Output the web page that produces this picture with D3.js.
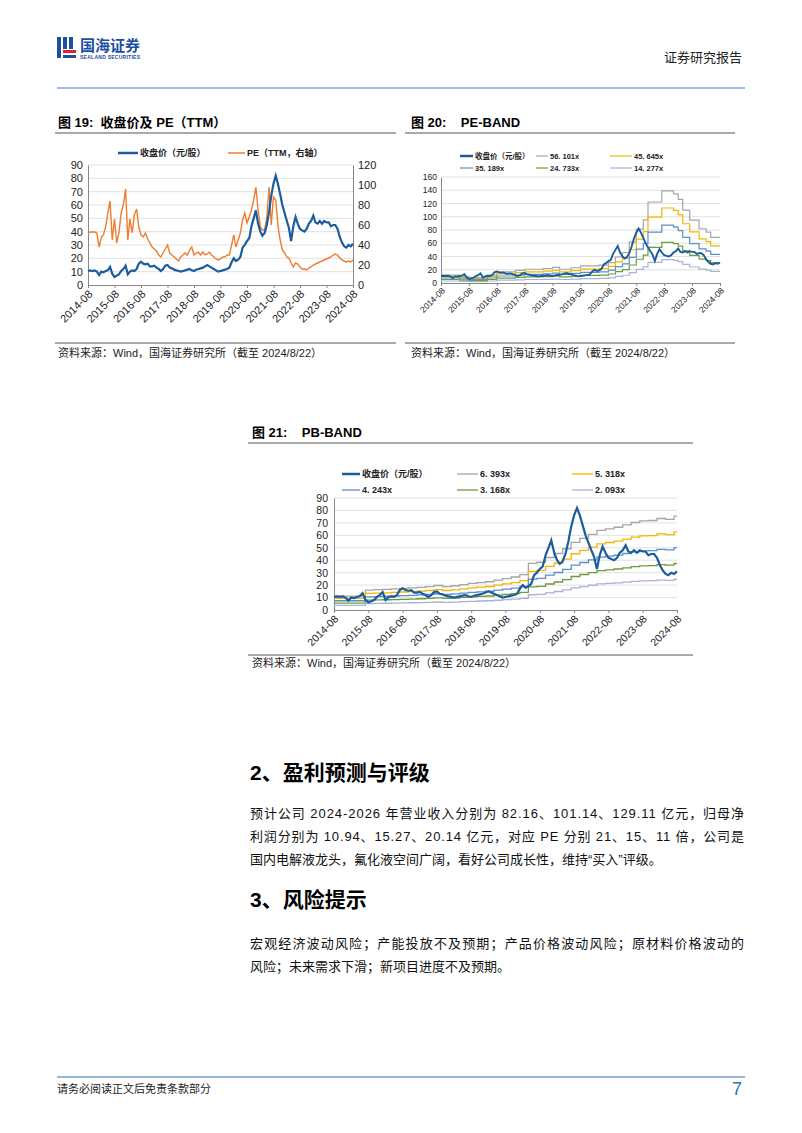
<!DOCTYPE html>
<html><head><meta charset="utf-8">
<script src="https://cdn.jsdelivr.net/npm/d3@7"></script>
<style>body{margin:0;background:#fff}svg{display:block}text{white-space:pre}</style>
</head><body>
<svg id="page" width="802" height="1133"></svg>
<script>
// ---------------- DATA ----------------
const startMonth = "2014-08";
const endMonth = "2024-08";
const xTickLabels = ["2014-08","2015-08","2016-08","2017-08","2018-08","2019-08","2020-08","2021-08","2022-08","2023-08","2024-08"];
const yTicksPrice90 = [0,10,20,30,40,50,60,70,80,90];
const yTicksPE120 = [0,20,40,60,80,100,120];
const yTicksBand160 = [0,20,40,60,80,100,120,140,160];

// monthly close price (元/股), 2014-08 .. 2024-08
const closePrice = [10.5,11,10.5,11,10,
 7.5,10,9.5,10.5,11,13.5,8.5,6,7,8,10.5,12,
 14.5,8,10,11,10.5,12,16,17.5,16,15.5,16,14,
 14,14.5,13,12,10.5,12,14.5,15,13,12.5,11.5,11,
 10.5,10,10.5,11,11.5,12,11,10.5,11.5,12,12.5,13,
 14,15,14,13,12,11,10,10.5,11,11.5,12,13,
 17,20,18,19,21,28,30,33,35,44,50,56,
 46,40,37,39,45,55,67,76,82,76,68,60,
 54,48,43,33,44,51,46,42,41,40,42,46,
 48,52,47,46,48,46,48,47,47,44,45,45,
 42,36,32,29,28,30,29,31];

// monthly PE (TTM), right axis
const peTTM = [52,53,53,53,52,
 38,48,50,58,72,84,45,66,42,52,72,80,
 96,45,66,52,70,76,58,50,48,52,46,42,
 38,36,34,30,28,32,36,40,32,30,28,26,
 24,28,30,32,30,35,38,30,32,33,30,33,
 30,31,33,30,28,26,25,26,28,28,30,30,
 40,50,38,45,52,65,72,62,68,75,85,98,
 75,58,55,55,68,98,60,88,85,60,45,35,
 32,28,27,22,18,22,21,18,16,16,15,17,
 18,20,21,22,23,24,25,26,27,28,30,31,
 30,27,25,24,23,24,23,25];

// PE band: multiples and EPS(TTM) step values
const peMultiples = [56.101,45.645,35.189,24.733,14.277];
const peLabels = ["56. 101x","45. 645x","35. 189x","24. 733x","14. 277x"];
const epsStepMonths = ["2014-08","2015-04","2015-08","2016-04","2016-08","2017-04","2017-08","2018-04","2018-08","2018-11","2019-04","2019-08","2020-04","2020-08","2020-11","2021-02","2021-05","2021-08","2021-11","2022-01","2022-07","2022-12","2023-02","2023-04","2023-07","2023-11","2024-02","2024-04"];
const epsStepValues = [0.214,0.178,0.143,0.214,0.30,0.34,0.37,0.39,0.42,0.37,0.41,0.46,0.48,0.55,0.70,0.82,1.10,1.45,1.70,2.18,2.48,2.40,2.25,1.96,1.69,1.46,1.37,1.23];

// PB band: multiples and BPS step values
const pbMultiples = [6.393,5.318,4.243,3.168,2.093];
const pbLabels = ["6. 393x","5. 318x","4. 243x","3. 168x","2. 093x"];
const bpsStepMonths = ["2014-08","2015-07","2015-10","2016-01","2016-04","2016-07","2016-10","2017-01","2017-04","2017-07","2017-10","2018-01","2018-04","2018-07","2018-10","2019-01","2019-04","2019-07","2019-10","2020-01","2020-04","2020-07","2020-10","2021-01","2021-04","2021-07","2021-10","2022-01","2022-04","2022-07","2022-10","2023-01","2023-04","2023-07","2023-10","2024-01","2024-04","2024-07"];
const bpsStepValues = [1.75,2.50,2.55,2.60,2.65,2.72,2.78,2.85,2.95,3.08,2.95,3.05,3.20,3.35,3.45,3.55,3.75,3.95,4.15,4.45,5.85,6.0,6.6,7.1,7.7,8.5,9.0,9.5,10.0,10.2,10.4,10.7,11.0,11.2,11.25,11.5,11.4,11.8];

const bandColors = ["#a5a5a5","#f2b700","#5b8fc9","#6a9c3e","#a9b3d8"];
const priceColor = "#1b5d9c";
const peColor = "#ed7d31";

// ---------------- HELPERS ----------------
const parse = d3.timeParse("%Y-%m");
const FONT = '"Liberation Sans", Arial, "Noto Sans CJK SC", sans-serif';
const svg = d3.select("#page");
const d0 = parse(startMonth), d1 = parse(endMonth);
const monthDates = closePrice.map((v,i)=>d3.timeMonth.offset(d0,i));
const xTickDates = xTickLabels.map(parse);

function text(x,y,s,o={}){
  const t = svg.append("text").attr("x",x).attr("y",y).text(s)
    .attr("font-family",o.family||FONT).attr("font-size",o.size||12)
    .attr("fill",o.fill||"#000");
  if(o.weight) t.attr("font-weight",o.weight);
  if(o.anchor) t.attr("text-anchor",o.anchor);
  if(o.len) t.attr("textLength",o.len).attr("lengthAdjust","spacing");
  return t;
}
function hline(x1,x2,y,color,w){
  svg.append("line").attr("x1",x1).attr("x2",x2).attr("y1",y).attr("y2",y)
    .attr("stroke",color).attr("stroke-width",w);
}

function panel(cfg){
  const g = svg.append("g");
  const x = d3.scaleTime().domain([d0,d1]).range([cfg.left,cfg.right]);
  const y = d3.scaleLinear().domain([0,cfg.yMax]).range([cfg.bottom,cfg.top]);
  g.append("g").selectAll("line").data(cfg.yTicks.filter(v=>v>0)).join("line")
    .attr("x1",cfg.left).attr("x2",cfg.right).attr("y1",d=>y(d)).attr("y2",d=>y(d))
    .attr("stroke","#d9d9d9").attr("stroke-width",0.8);
  const ya = g.append("g").attr("transform",`translate(${cfg.left},0)`)
    .call(d3.axisLeft(y).tickValues(cfg.yTicks).tickSize(0).tickPadding(cfg.yPad||4));
  ya.select(".domain").attr("stroke","#868686");
  ya.selectAll("text").attr("font-family",FONT).attr("font-size",cfg.fs).attr("fill","#222");
  const xa = g.append("g").attr("transform",`translate(0,${cfg.bottom})`)
    .call(d3.axisBottom(x).tickValues(xTickDates).tickSize(3).tickFormat((d,i)=>xTickLabels[i]));
  xa.select(".domain").attr("stroke","#868686");
  xa.selectAll(".tick line").attr("stroke","#868686");
  xa.selectAll("text").attr("font-family",FONT).attr("font-size",cfg.xfs||cfg.fs).attr("fill","#222")
    .attr("text-anchor","end").attr("x",0).attr("y",0).attr("dy","0.35em")
    .attr("transform",`translate(${cfg.lx||2},${cfg.ly||7}) rotate(-45)`);
  return {g,x,y};
}

function legendItem(x1,x2,yy,color,w,label,fs){
  svg.append("line").attr("x1",x1).attr("x2",x2).attr("y1",yy).attr("y2",yy)
    .attr("stroke",color).attr("stroke-width",w);
  text(x2+2,yy+fs*0.36,label,{size:fs,weight:"bold",fill:"#222"});
}

function stepSeries(months,vals,mult){
  const pts = months.map((m,i)=>({d:parse(m),v:vals[i]*mult}));
  pts.push({d:d1,v:vals[vals.length-1]*mult});
  return pts;
}

// ---------------- HEADER ----------------
const logoBlue = "#1d4f9f", logoRed = "#d8262c";
svg.append("rect").attr("x",57).attr("y",37).attr("width",4).attr("height",21).attr("fill",logoBlue);
svg.append("rect").attr("x",63).attr("y",37).attr("width",4).attr("height",12).attr("fill",logoBlue);
svg.append("rect").attr("x",69).attr("y",37).attr("width",4).attr("height",12).attr("fill",logoBlue);
svg.append("rect").attr("x",63).attr("y",50).attr("width",13).attr("height",3).attr("fill",logoRed);
svg.append("rect").attr("x",63).attr("y",55).attr("width",13).attr("height",3).attr("fill",logoBlue);
text(80,51,"国海证券",{size:15,weight:"bold",fill:logoBlue,len:60});
text(80,58.5,"SEALAND SECURITIES",{size:5,weight:"bold",fill:logoBlue,len:60});
text(742,62,"证券研究报告",{size:13,anchor:"end",fill:"#222"});
hline(57,745,88,"#9dbde6",2);

// ---------------- CHART 19 ----------------
text(58,127,"图 19:  收盘价及 PE（TTM）",{size:13,weight:"bold"});
hline(55,396,133,"#555",1.2);
{
  const p = panel({left:88,right:353,top:165,bottom:285,yMax:90,yTicks:yTicksPrice90,fs:11,yPad:5,lx:2,ly:7});
  const yR = d3.scaleLinear().domain([0,120]).range([285,165]);
  const ra = p.g.append("g").attr("transform","translate(353,0)")
    .call(d3.axisRight(yR).tickValues(yTicksPE120).tickSize(0).tickPadding(5));
  ra.select(".domain").attr("stroke","#868686");
  ra.selectAll("text").attr("font-family",FONT).attr("font-size",11).attr("fill","#222");
  p.g.append("path").datum(peTTM).attr("fill","none").attr("stroke",peColor).attr("stroke-width",1.4)
    .attr("d",d3.line().x((d,i)=>p.x(monthDates[i])).y(d=>yR(d)));
  p.g.append("path").datum(closePrice).attr("fill","none").attr("stroke",priceColor).attr("stroke-width",2.2)
    .attr("d",d3.line().x((d,i)=>p.x(monthDates[i])).y(d=>p.y(d)));
  legendItem(118,138,153,priceColor,2.5,"收盘价（元/股）",9);
  legendItem(228,245,153,peColor,1.5,"PE（TTM，右轴）",9);
}
hline(55,396,343,"#555",1);
text(58,357,"资料来源：Wind，国海证券研究所（截至 2024/8/22）",{size:11,fill:"#222"});

// ---------------- CHART 20 ----------------
text(411,127,"图 20:    PE-BAND",{size:13,weight:"bold"});
hline(405,735,133,"#555",1.2);
{
  const p = panel({left:441,right:720,top:177,bottom:283,yMax:160,yTicks:yTicksBand160,fs:8.5,xfs:8.5,yPad:4,lx:2,ly:6});
  peMultiples.forEach((m,k)=>{
    p.g.append("path").datum(stepSeries(epsStepMonths,epsStepValues,m)).attr("fill","none")
      .attr("stroke",bandColors[k]).attr("stroke-width",1.2)
      .attr("d",d3.line().curve(d3.curveStepAfter).x(d=>p.x(d.d)).y(d=>p.y(d.v)));
  });
  p.g.append("path").datum(closePrice).attr("fill","none").attr("stroke",priceColor).attr("stroke-width",1.9)
    .attr("d",d3.line().x((d,i)=>p.x(monthDates[i])).y(d=>p.y(d)));
  const cols=[[460,473],[536,548],[610,632]];
  legendItem(cols[0][0],cols[0][1],156,priceColor,2.5,"收盘价（元/股）",7.5);
  legendItem(cols[1][0],cols[1][1],156,bandColors[0],1.2,peLabels[0],7.5);
  legendItem(cols[2][0],cols[2][1],156,bandColors[1],1.2,peLabels[1],7.5);
  legendItem(cols[0][0],cols[0][1],168,bandColors[2],1.2,peLabels[2],7.5);
  legendItem(cols[1][0],cols[1][1],168,bandColors[3],1.2,peLabels[3],7.5);
  legendItem(cols[2][0],cols[2][1],168,bandColors[4],1.2,peLabels[4],7.5);
}
hline(405,735,343,"#555",1);
text(411,357,"资料来源：Wind，国海证券研究所（截至 2024/8/22）",{size:11,fill:"#222"});

// ---------------- CHART 21 ----------------
text(252,437,"图 21:    PB-BAND",{size:13,weight:"bold"});
hline(248,693,443,"#555",1.2);
{
  const p = panel({left:334,right:677,top:498,bottom:610,yMax:90,yTicks:yTicksPrice90,fs:10.5,yPad:6,lx:2,ly:7});
  pbMultiples.forEach((m,k)=>{
    p.g.append("path").datum(stepSeries(bpsStepMonths,bpsStepValues,m)).attr("fill","none")
      .attr("stroke",bandColors[k]).attr("stroke-width",1.3)
      .attr("d",d3.line().curve(d3.curveStepAfter).x(d=>p.x(d.d)).y(d=>p.y(d.v)));
  });
  p.g.append("path").datum(closePrice).attr("fill","none").attr("stroke",priceColor).attr("stroke-width",2.2)
    .attr("d",d3.line().x((d,i)=>p.x(monthDates[i])).y(d=>p.y(d)));
  const cols=[[342,360],[457,478],[572,593]];
  legendItem(cols[0][0],cols[0][1],474,priceColor,2.5,"收盘价（元/股）",9);
  legendItem(cols[1][0],cols[1][1],474,bandColors[0],1.3,pbLabels[0],9);
  legendItem(cols[2][0],cols[2][1],474,bandColors[1],1.3,pbLabels[1],9);
  legendItem(cols[0][0],cols[0][1],490,bandColors[2],1.3,pbLabels[2],9);
  legendItem(cols[1][0],cols[1][1],490,bandColors[3],1.3,pbLabels[3],9);
  legendItem(cols[2][0],cols[2][1],490,bandColors[4],1.3,pbLabels[4],9);
}
hline(248,693,655,"#555",1);
text(252,667,"资料来源：Wind，国海证券研究所（截至 2024/8/22）",{size:11,fill:"#222"});

// ---------------- TEXT ----------------
text(250,780,"2、盈利预测与评级",{size:21,weight:"bold"});
const para1 = ["预计公司 2024-2026 年营业收入分别为 82.16、101.14、129.11 亿元，归母净",
  "利润分别为 10.94、15.27、20.14 亿元，对应 PE 分别 21、15、11 倍，公司是",
  "国内电解液龙头，氟化液空间广阔，看好公司成长性，维持“买入”评级。"];
text(250,818,para1[0],{size:13,len:494,fill:"#111"});
text(250,841,para1[1],{size:13,len:494,fill:"#111"});
text(250,864,para1[2],{size:13,fill:"#111"});
text(250,907,"3、风险提示",{size:21,weight:"bold"});
text(250,948,"宏观经济波动风险；产能投放不及预期；产品价格波动风险；原材料价格波动的",{size:13,len:494,fill:"#111"});
text(250,971,"风险；未来需求下滑；新项目进度不及预期。",{size:13,fill:"#111"});

// ---------------- FOOTER ----------------
hline(57,745,1077,"#2f6fb8",1.2);
text(57,1093,"请务必阅读正文后免责条款部分",{size:11,fill:"#222"});
text(742,1095,"7",{size:18,anchor:"end",fill:"#2f6fb8"});
</script></body></html>
